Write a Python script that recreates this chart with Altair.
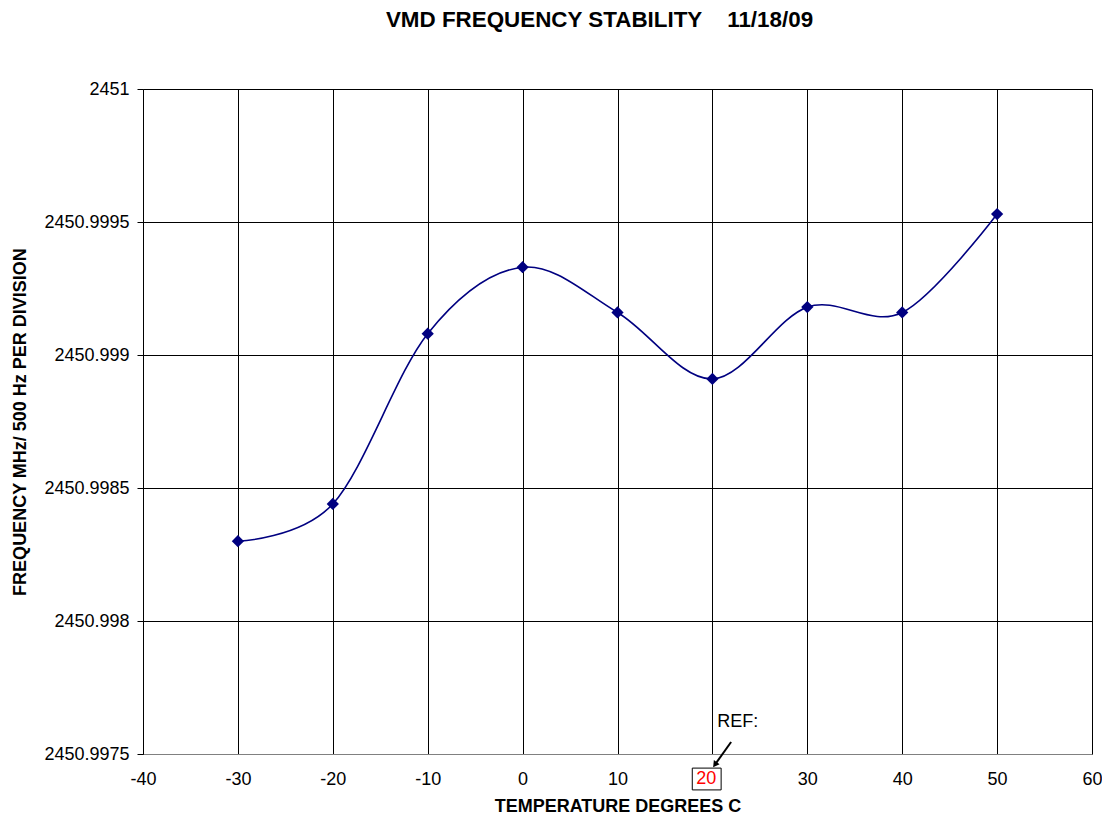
import altair as alt
import pandas as pd

# Data
temps = [-30, -20, -10, 0, 10, 20, 30, 40, 50]
freqs = [2450.99830, 2450.99844, 2450.99908, 2450.99933, 2450.99916,
         2450.99891, 2450.99918, 2450.99916, 2450.99953]

x_ticks = [-40, -30, -20, -10, 0, 10, 20, 30, 40, 50, 60]
y_ticks = [2450.9975, 2450.998, 2450.9985, 2450.999, 2450.9995, 2451.0]

# Annotation (REF: arrow and boxed "20") in data coordinates
ref_label_x = [20.5]
ref_label_y = [2450.99762]
ref_text = ["REF:"]
box_x = [17.88]
box_x2 = [20.92]
box_y = [2450.997447]
box_y2 = [2450.997365]
box_text = ["20"]
box_text_x = [19.35]
box_text_y = [2450.997406]
arrow_x = [21.97]
arrow_y = [2450.997545]
arrow_x2 = [20.33]
arrow_y2 = [2450.997463]

df = pd.DataFrame({"temp": temps, "freq": freqs})

FONT = "Liberation Sans"
NAVY = "#000080"
FS = 18

xs = alt.Scale(domain=[-40, 60], nice=False, zero=False)
ys = alt.Scale(domain=[2450.9975, 2451.0], nice=False, zero=False)

x_axis = alt.Axis(
    values=x_ticks, title="TEMPERATURE DEGREES C", grid=True, gridColor="#000000",
    gridWidth=1, ticks=False, labelPadding=16, domainColor="#808080",
    labelFont=FONT, labelFontSize=FS, labelColor="#000000",
    labelExpr="datum.value == 20 ? '' : toString(datum.value)",
    titleFont=FONT, titleFontSize=FS, titleFontWeight="bold", titleColor="#000000",
    titlePadding=9, labelFlush=False,
)
y_axis = alt.Axis(
    values=y_ticks, title="FREQUENCY MHz/ 500 Hz PER DIVISION", grid=True,
    gridColor="#000000", gridWidth=1, format=".6~f", tickSize=6, tickColor="#000000",
    domainColor="#000000", labelPadding=8, labelFont=FONT, labelFontSize=FS,
    labelColor="#000000", titleFont=FONT, titleFontSize=FS, titleFontWeight="bold",
    titleColor="#000000", titlePadding=14, labelFlush=False,
)


def X(field):
    return alt.X(field, scale=xs, axis=x_axis)


def Y(field):
    return alt.Y(field, scale=ys, axis=y_axis)


base = alt.Chart(df)

line = base.mark_line(color=NAVY, strokeWidth=1.6, interpolate="cardinal").encode(
    x=X("temp:Q"), y=Y("freq:Q"),
)
pts = base.mark_point(shape="diamond", filled=True, color=NAVY, size=150, opacity=1).encode(
    x=X("temp:Q"), y=Y("freq:Q"),
)

ref_df = pd.DataFrame({"x": ref_label_x, "y": ref_label_y, "t": ref_text})
ref = alt.Chart(ref_df).mark_text(align="left", baseline="middle", font=FONT,
                                  fontSize=FS, color="#000000").encode(
    x=X("x:Q"), y=Y("y:Q"), text="t:N",
)

box_df = pd.DataFrame({"x": box_x, "x2": box_x2, "y": box_y, "y2": box_y2})
box = alt.Chart(box_df).mark_rect(fill="#ffffff", stroke="#000000", strokeWidth=1).encode(
    x=X("x:Q"), x2="x2:Q", y=Y("y:Q"), y2="y2:Q",
)

bt_df = pd.DataFrame({"x": box_text_x, "y": box_text_y, "t": box_text})
bt = alt.Chart(bt_df).mark_text(align="center", baseline="middle", font=FONT,
                                fontSize=FS, color="#ff0000").encode(
    x=X("x:Q"), y=Y("y:Q"), text="t:N",
)

ar_df = pd.DataFrame({"x": arrow_x, "y": arrow_y, "x2": arrow_x2, "y2": arrow_y2})
arrow = alt.Chart(ar_df).mark_rule(color="#000000", strokeWidth=2).encode(
    x=X("x:Q"), x2="x2:Q", y=Y("y:Q"), y2="y2:Q",
)
head = alt.Chart(ar_df).mark_point(shape="triangle", filled=True, color="#000000",
                                   size=50, angle=216, opacity=1).encode(
    x=X("x2:Q"), y=Y("y2:Q"),
)

chart = alt.layer(line, pts, arrow, head, box, bt, ref).properties(
    width=949, height=665,
    autosize=alt.AutoSizeParams(type="none"),
    padding={"left": 135, "top": 81, "right": 10, "bottom": 60},
    title=alt.TitleParams(
        "VMD FREQUENCY STABILITY" + "\u00a0" * 4 + "11/18/09",
        font=FONT, fontSize=22.4, fontWeight="bold", color="#000000",
        anchor="middle", dx=-18, offset=49,
    ),
).configure_view(strokeWidth=0).configure(background="#ffffff")

chart.save("out.html", embed_options={"renderer": "svg", "actions": False})
